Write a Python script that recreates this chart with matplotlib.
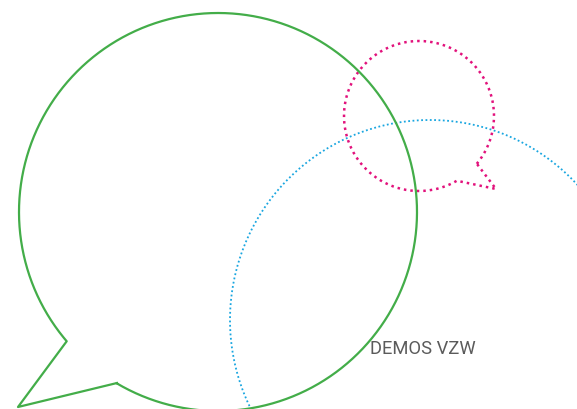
import numpy as np
from matplotlib import pyplot as plt

# speech bubbles (pixel coords of the original picture, y pointing down)
bubble_names = ['green', 'magenta', 'blue']
bubble_cx = [218, 419, 430]
bubble_cy = [213, 117, 321]
bubble_r = [199, 75, 200]
# tail: point on circle, tip, other point on circle
green_tail = [(67, 342), (18, 408), (117, 384)]
magenta_tail = [(457, 182), (496, 190), (477, 165)]
label = 'DEMOS VZW'

colors = {'green': '#43ad49', 'magenta': '#e2127c', 'blue': '#19a6e0'}


def bubble(cx, cy, r, tail):
    # circle with a wedge cut out for the tail
    if tail is None:
        a = np.linspace(0, 2 * np.pi, 400)
        return cx + r * np.cos(a), cy + r * np.sin(a)
    p_a, tip, p_b = tail
    a_b = np.arctan2(p_b[1] - cy, p_b[0] - cx)
    a_a = np.arctan2(p_a[1] - cy, p_a[0] - cx)
    d = (a_a - a_b) % (2 * np.pi)
    if d < np.pi:
        d -= 2 * np.pi  # the long way round
    a = np.linspace(a_b, a_b + d, 500)
    x = list(cx + r * np.cos(a)) + [tip[0], p_b[0]]
    y = list(cy + r * np.sin(a)) + [tip[1], p_b[1]]
    return x, y


fig = plt.figure(figsize=(5.77, 4.10), dpi=100)
ax = fig.add_axes([0, 0, 1, 1])
ax.set_xlim(0, 577)
ax.set_ylim(410, 0)
ax.axis('off')

tails = {'green': green_tail, 'magenta': magenta_tail, 'blue': None}

x, y = bubble(bubble_cx[2], bubble_cy[2], bubble_r[2], tails['blue'])
ax.plot(x, y, color=colors['blue'], lw=1.3, ls=(0, (1, 1.4)), zorder=1)

x, y = bubble(bubble_cx[1], bubble_cy[1], bubble_r[1], tails['magenta'])
ax.plot(x, y, color=colors['magenta'], lw=1.8, ls=(0, (1, 1.6)), zorder=2)

x, y = bubble(bubble_cx[0], bubble_cy[0], bubble_r[0], tails['green'])
ax.plot(x, y, color=colors['green'], lw=1.6, zorder=3)

ax.text(370, 354, label, fontsize=13.2, family='Roboto', color='#5b5b5b',
        ha='left', va='baseline', zorder=4)

plt.savefig('out.png', dpi=100)
